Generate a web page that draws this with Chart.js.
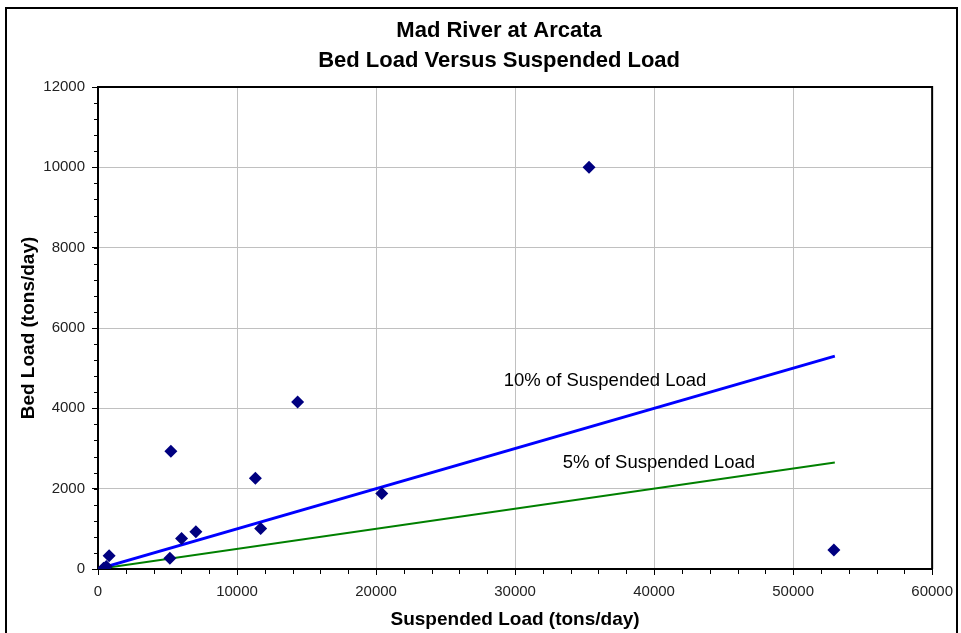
<!DOCTYPE html>
<html>
<head>
<meta charset="utf-8">
<script src="https://cdn.jsdelivr.net/npm/chart.js@4.4.1/dist/chart.umd.min.js"></script>
<style>
  html, body { margin: 0; padding: 0; background: #fff; }
  #wrap { width: 961px; height: 633px; position: relative; }
</style>
</head>
<body>
<div id="wrap"><canvas id="loadChart"></canvas></div>
<script>
// measured samples, tons/day
const suspendedLoad = [400, 600, 800, 5170, 6010, 7040, 5240, 11320, 11700, 14360, 20410, 35320, 52930];
const bedLoad = [20, 60, 330, 270, 760, 930, 2930, 2260, 1010, 4160, 1880, 10000, 470];

// reference lines: bed load as a share of suspended load
const refX = [0, 53000];
const ref10 = [0, 5300];
const ref5 = [0, 2650];

const titleLines = ['Mad River at Arcata', 'Bed Load Versus Suspended Load'];
const refLabels = [
  { text: '10% of Suspended Load', x: 36470, y: 4680 },
  { text: '5% of Suspended Load', x: 40340, y: 2640 },
];

const FONT = '"Liberation Sans", Arial, sans-serif';

const pairs = (xs, ys) => xs.map((x, i) => ({ x, y: ys[i] }));
const plain = v => String(v);

const decor = {
  id: 'decor',
  beforeDraw(chart) {
    const { ctx } = chart;
    ctx.save();
    ctx.fillStyle = '#fff';
    ctx.fillRect(0, 0, chart.width, chart.height);
    ctx.strokeStyle = '#000';
    ctx.lineWidth = 2;
    ctx.strokeRect(6, 8, 951, 700);
    ctx.restore();
  },
  afterDraw(chart) {
    const { ctx, chartArea: a, scales: { x, y } } = chart;
    ctx.save();
    // frame top and right
    ctx.strokeStyle = '#000';
    ctx.lineWidth = 2;
    ctx.beginPath();
    ctx.moveTo(a.left, a.top);
    ctx.lineTo(a.right, a.top);
    ctx.lineTo(a.right, a.bottom);
    ctx.stroke();

    // minor ticks
    ctx.lineWidth = 1;
    ctx.beginPath();
    for (let v = 0; v <= 60000; v += 2000) {
      const px = Math.round(x.getPixelForValue(v)) + 0.5;
      ctx.moveTo(px, a.bottom);
      ctx.lineTo(px, a.bottom + 5);
    }
    for (let v = 0; v <= 12000; v += 400) {
      const py = Math.round(y.getPixelForValue(v)) + 0.5;
      ctx.moveTo(a.left - 4, py);
      ctx.lineTo(a.left, py);
    }
    ctx.stroke();

    // titles
    ctx.fillStyle = '#000';
    ctx.textAlign = 'center';
    ctx.textBaseline = 'middle';
    ctx.font = 'bold 22px ' + FONT;
    const cx = (a.left + a.right) / 2 - 16;
    ctx.fillText(titleLines[0], cx, 31);
    ctx.fillText(titleLines[1], cx, 61);

    // line labels
    ctx.font = '18.5px ' + FONT;
    refLabels.forEach(l => {
      ctx.fillText(l.text, x.getPixelForValue(l.x), y.getPixelForValue(l.y));
    });
    ctx.restore();
  },
};

new Chart(document.getElementById('loadChart'), {
  type: 'scatter',
  data: {
    datasets: [
      {
        label: 'Measured',
        data: pairs(suspendedLoad, bedLoad),
        pointStyle: 'rectRot',
        pointRadius: 6.5,
        backgroundColor: '#000080',
        borderColor: '#000080',
        borderWidth: 0,
        order: 0,
      },
      {
        label: '10%',
        data: pairs(refX, ref10),
        showLine: true,
        borderColor: '#0000ff',
        borderWidth: 3,
        pointRadius: 0,
        order: 1,
      },
      {
        label: '5%',
        data: pairs(refX, ref5),
        showLine: true,
        borderColor: '#008000',
        borderWidth: 2,
        pointRadius: 0,
        order: 2,
      },
    ],
  },
  options: {
    responsive: true,
    maintainAspectRatio: false,
    animation: false,
    layout: { padding: { left: 14, top: 87, right: 27, bottom: 0 } },
    plugins: {
      legend: { display: false },
      tooltip: { enabled: false },
    },
    scales: {
      x: {
        type: 'linear',
        min: 0, max: 60000,
        afterFit: s => { s.height = 64; },
        ticks: { stepSize: 10000, color: '#222', font: { family: FONT, size: 15 }, padding: 8, callback: plain },
        grid: { color: '#c0c0c0', tickColor: '#000', tickLength: 6 },
        border: { color: '#000', width: 2 },
        title: {
          display: true, text: 'Suspended Load (tons/day)', color: '#000',
          font: { family: FONT, size: 19, weight: 'bold' }, padding: { bottom: 2 },
        },
      },
      y: {
        min: 0, max: 12000,
        afterFit: s => { s.width = 84; },
        ticks: { stepSize: 2000, color: '#222', font: { family: FONT, size: 15 }, padding: 7, callback: plain },
        grid: { color: '#c0c0c0', tickColor: '#000', tickLength: 6 },
        border: { color: '#000', width: 2 },
        title: {
          display: true, text: 'Bed Load (tons/day)', color: '#000',
          font: { family: FONT, size: 19, weight: 'bold' }, padding: { top: 3 },
        },
      },
    },
  },
  plugins: [decor],
});
</script>
</body>
</html>
